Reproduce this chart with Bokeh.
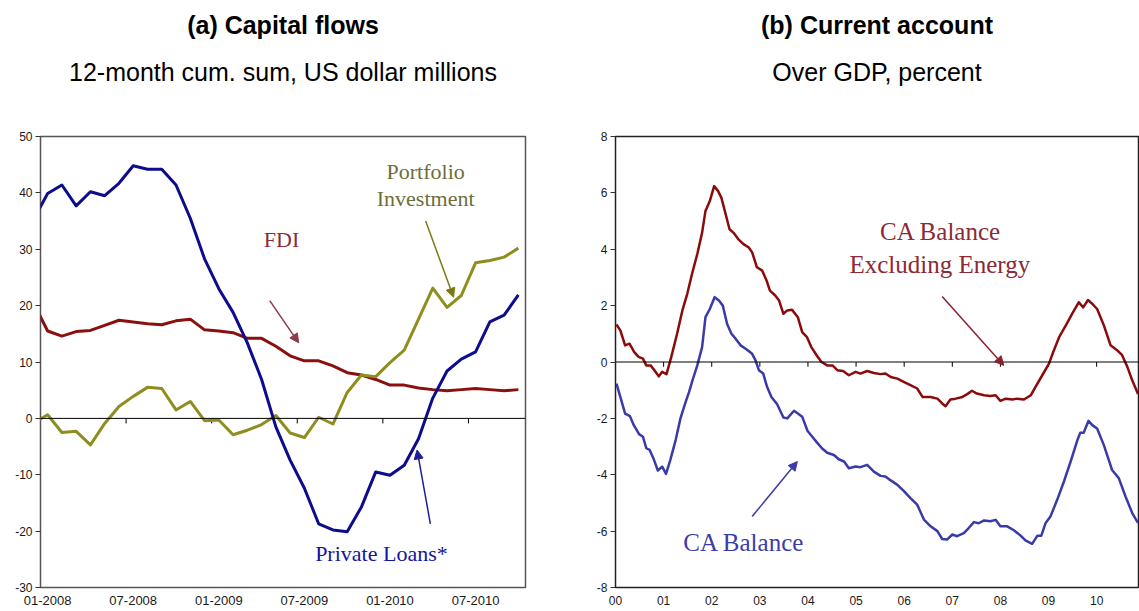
import pandas as pd
from bokeh.plotting import figure
from bokeh.models import Range1d, FixedTicker, Span, Title, Label, Arrow, NormalHead
from bokeh.layouts import row
from bokeh.embed import file_html
from bokeh.resources import INLINE

# ---------------- Panel (a): capital flows, monthly, US$ millions ----------------
flow_months = [str(p) for p in pd.period_range("2007-12", "2010-10", freq="M")]
private_loans = [35.2, 39.9, 41.4, 37.7, 40.2, 39.5, 41.7, 44.8, 44.2, 44.2, 41.4, 35.5,
                 28.3, 23.0, 18.8, 13.4, 6.9, -1.5, -7.4, -12.4, -18.7, -19.8, -20.1,
                 -15.7, -9.5, -10.1, -8.3, -3.6, 3.6, 8.4, 10.5, 11.8, 17.1, 18.3, 21.9]
fdi = [20.5, 15.5, 14.6, 15.4, 15.6, 16.5, 17.4, 17.1, 16.8, 16.6, 17.3, 17.6, 15.7,
       15.5, 15.2, 14.2, 14.2, 12.8, 11.1, 10.2, 10.2, 9.3, 8.1, 7.7, 6.9, 5.9, 5.9,
       5.4, 5.1, 4.9, 5.1, 5.3, 5.1, 4.9, 5.1]
portfolio = [-0.85, 0.65, -2.5, -2.3, -4.7, -0.9, 2.1, 3.9, 5.5, 5.3, 1.5, 3.0, -0.4,
             -0.3, -2.9, -2.1, -1.1, 0.5, -2.6, -3.4, 0.2, -1.0, 4.6, 7.7, 7.4, 9.9,
             12.1, 17.6, 23.1, 19.7, 21.8, 27.6, 28.0, 28.6, 30.2]
flow_tick_labels = ["01-2008", "07-2008", "01-2009", "07-2009", "01-2010", "07-2010"]
flow_y_ticks = [-30, -20, -10, 0, 10, 20, 30, 40, 50]

# ---------------- Panel (b): current account, % of GDP ----------------
ca_t = [0.02, 0.10, 0.20, 0.29, 0.39, 0.48, 0.57, 0.64, 0.73, 0.82, 0.90, 0.97, 1.06, 1.16,
        1.28, 1.39, 1.49, 1.59, 1.70, 1.80, 1.87, 1.96, 2.05, 2.13, 2.20, 2.29, 2.37, 2.45,
        2.55, 2.66, 2.77, 2.84, 2.94, 3.05, 3.14, 3.21, 3.32, 3.40, 3.49, 3.57, 3.67, 3.79,
        3.88, 3.98, 4.07, 4.18, 4.28, 4.40, 4.51, 4.61, 4.73, 4.85, 4.99, 5.09, 5.23, 5.37,
        5.51, 5.61, 5.72, 5.86, 6.00, 6.13, 6.27, 6.38, 6.55, 6.69, 6.79, 6.86, 6.96, 7.07,
        7.21, 7.31, 7.41, 7.51, 7.66, 7.79, 7.90, 8.00, 8.11, 8.25, 8.35, 8.49, 8.63, 8.73,
        8.87, 9.01, 9.11, 9.22, 9.36, 9.49, 9.63, 9.72, 9.82, 9.91, 10.01, 10.15, 10.29,
        10.43, 10.53, 10.64, 10.74, 10.86]
ca_ex_energy = [1.33, 1.12, 0.59, 0.65, 0.35, 0.18, 0.12, -0.12, -0.12, -0.32, -0.51, -0.35,
                -0.43, 0.18, 1.00, 1.83, 2.41, 3.12, 3.83, 4.59, 5.36, 5.71, 6.24, 6.07, 5.83,
                5.24, 4.71, 4.59, 4.36, 4.18, 4.06, 3.89, 3.36, 3.24, 2.89, 2.53, 2.36, 2.18,
                1.71, 1.83, 1.85, 1.59, 1.06, 0.88, 0.53, 0.24, 0.00, -0.12, -0.12, -0.29,
                -0.32, -0.47, -0.35, -0.41, -0.32, -0.39, -0.43, -0.41, -0.53, -0.59, -0.71,
                -0.82, -0.94, -1.24, -1.24, -1.30, -1.47, -1.57, -1.33, -1.30, -1.24, -1.14,
                -1.02, -1.12, -1.18, -1.21, -1.18, -1.38, -1.30, -1.33, -1.30, -1.33, -1.18,
                -0.88, -0.47, -0.06, 0.41, 0.88, 1.30, 1.71, 2.12, 1.94, 2.20, 2.06, 1.88,
                1.30, 0.59, 0.41, 0.24, -0.18, -0.65, -1.14]
cab_t = [0.02, 0.10, 0.20, 0.30, 0.38, 0.49, 0.57, 0.64, 0.71, 0.80, 0.88, 0.97, 1.05, 1.14,
         1.25, 1.35, 1.46, 1.53, 1.60, 1.70, 1.80, 1.87, 1.96, 2.06, 2.15, 2.23, 2.32, 2.41,
         2.50, 2.60, 2.72, 2.84, 2.91, 2.98, 3.07, 3.15, 3.24, 3.36, 3.49, 3.57, 3.71, 3.79,
         3.88, 3.99, 4.09, 4.19, 4.29, 4.40, 4.54, 4.64, 4.75, 4.85, 4.99, 5.09, 5.23, 5.37,
         5.51, 5.61, 5.72, 5.86, 6.00, 6.13, 6.27, 6.41, 6.55, 6.69, 6.79, 6.89, 7.00, 7.10,
         7.24, 7.34, 7.45, 7.55, 7.66, 7.79, 7.90, 8.00, 8.14, 8.28, 8.42, 8.52, 8.66, 8.77,
         8.85, 8.94, 9.04, 9.18, 9.32, 9.46, 9.60, 9.66, 9.73, 9.83, 9.91, 10.01, 10.15,
         10.32, 10.46, 10.60, 10.74, 10.86]
ca_balance = [-0.77, -1.24, -1.83, -1.92, -2.24, -2.56, -2.65, -3.06, -3.12, -3.47, -3.85,
              -3.71, -3.97, -3.47, -2.77, -2.00, -1.41, -1.06, -0.65, -0.12, 0.53, 1.59, 1.88,
              2.30, 2.18, 2.00, 1.35, 1.00, 0.82, 0.59, 0.45, 0.29, 0.06, -0.29, -0.41, -0.88,
              -1.24, -1.50, -1.97, -2.00, -1.73, -1.83, -1.94, -2.44, -2.65, -2.86, -3.06,
              -3.22, -3.30, -3.45, -3.53, -3.77, -3.71, -3.73, -3.65, -3.89, -4.04, -4.06,
              -4.20, -4.36, -4.59, -4.83, -5.06, -5.59, -5.83, -6.00, -6.28, -6.30, -6.12,
              -6.18, -6.07, -5.89, -5.68, -5.72, -5.62, -5.65, -5.60, -5.83, -5.83, -5.97,
              -6.16, -6.33, -6.45, -6.16, -6.16, -5.71, -5.48, -4.89, -4.24, -3.53, -2.77,
              -2.51, -2.51, -2.09, -2.24, -2.36, -2.95, -3.83, -4.12, -4.77, -5.36, -5.71]
ca_years = list(range(2000, 2011))
ca_year_labels = ["%02d" % (y % 100) for y in ca_years]
ca_y_ticks = [-8, -6, -4, -2, 0, 2, 4, 6, 8]

SANS = "Liberation Sans"
SERIF = "Liberation Serif"


def month_pos(s):
    y, m = s.split("-")
    return (int(y) - 2008) * 12 + (int(m) - 1) + 0.5


flow_x = [month_pos(s) for s in flow_months]
flow_ticks = [month_pos(f"20{l[-2:]}-{l[:2]}") for l in flow_tick_labels]


def add_titles(p, main, sub):
    p.add_layout(Title(text=" ", text_font_size="10px", standoff=28), "above")
    p.add_layout(Title(text=sub, text_font=SANS, text_font_size="25px",
                       text_font_style="normal", align="center", standoff=19,
                       text_color="#000000"), "above")
    p.add_layout(Title(text=main, text_font=SANS, text_font_size="25px",
                       text_font_style="bold", align="center", standoff=16,
                       text_color="#000000"), "above")


def style_axes(p, xfont):
    p.xgrid.visible = False
    p.ygrid.visible = False
    for ax in (p.xaxis[0], p.yaxis[0]):
        ax.axis_line_color = None
        ax.minor_tick_line_color = None
        ax.major_label_text_font = SANS
        ax.major_label_text_color = "#1a1a1a"
        ax.axis_label_standoff = 0
    p.xaxis.major_tick_line_color = None
    p.xaxis.major_tick_out = 0
    p.xaxis.major_tick_in = 0
    p.xaxis.major_label_standoff = 8
    p.xaxis.major_label_text_font_size = xfont
    p.yaxis.major_label_text_font_size = "12px"
    p.yaxis.major_tick_out = 5
    p.yaxis.major_tick_in = 0
    p.yaxis.major_tick_line_color = "#333333"
    p.yaxis.major_label_standoff = 3


# ---------------- figure (a) ----------------
p1 = figure(width=568, height=611, x_range=Range1d(0, 34), y_range=Range1d(-30, 50),
            output_backend="svg", toolbar_location=None,
            min_border_left=40, min_border_right=43, min_border_bottom=24, min_border_top=0)
p1.outline_line_color = "#555555"
p1.outline_line_width = 1.5
style_axes(p1, "13px")
p1.xaxis.ticker = FixedTicker(ticks=flow_ticks)
p1.xaxis.major_label_overrides = {t: l for t, l in zip(flow_ticks, flow_tick_labels)}
p1.yaxis.ticker = FixedTicker(ticks=flow_y_ticks)
p1.yaxis.major_label_overrides = {v: str(v) for v in flow_y_ticks}
add_titles(p1, "(a) Capital flows", "12-month cum. sum, US dollar millions")

p1.add_layout(Span(location=0, dimension="width", line_color="#000000", line_width=1))
zt = [t - 0.5 for t in flow_ticks[1:]]
p1.segment(x0=zt, y0=[0] * len(zt), x1=zt, y1=[-0.9] * len(zt), line_color="#000000", line_width=1)

p1.line(flow_x, fdi, line_color="#8B0F0F", line_width=3, line_join="round")
p1.line(flow_x, portfolio, line_color="#8E8E1E", line_width=3, line_join="round")
p1.line(flow_x, private_loans, line_color="#0C0C8C", line_width=3, line_join="round")

for txt, x, y, c in [("Portfolio", 27.0, 43.8, "#6E6E3A"), ("Investment", 27.0, 39.0, "#6E6E3A"),
                     ("FDI", 16.9, 31.7, "#8B2C3C"), ("Private Loans*", 23.9, -24.0, "#1414A0")]:
    p1.add_layout(Label(x=x, y=y, text=txt, text_font=SERIF, text_font_size="22px",
                        text_color=c, text_align="center", text_baseline="middle"))
for (xs, ys, xe, ye, c) in [(27.0, 35.0, 28.96, 21.5, "#7A7A14"),
                            (16.07, 20.9, 18.1, 13.4, "#8B3A48"),
                            (27.33, -18.7, 26.4, -5.6, "#1E1E9A")]:
    p1.add_layout(Arrow(end=NormalHead(size=9, fill_color=c, line_color=c, line_width=1),
                        x_start=xs, y_start=ys, x_end=xe, y_end=ye,
                        line_color=c, line_width=1.5))

# ---------------- figure (b) ----------------
p2 = figure(width=571, height=611, x_range=Range1d(2000, 2010.87), y_range=Range1d(-8, 8),
            output_backend="svg", toolbar_location=None,
            min_border_left=47, min_border_right=1, min_border_bottom=24, min_border_top=0)
p2.outline_line_color = "#222222"
p2.outline_line_width = 1.5
style_axes(p2, "12px")
p2.xaxis.ticker = FixedTicker(ticks=ca_years)
p2.xaxis.major_label_overrides = {y: l for y, l in zip(ca_years, ca_year_labels)}
p2.yaxis.ticker = FixedTicker(ticks=ca_y_ticks)
p2.yaxis.major_label_overrides = {v: str(v) for v in ca_y_ticks}
add_titles(p2, "(b) Current account", "Over GDP, percent")

p2.add_layout(Span(location=0, dimension="width", line_color="#000000", line_width=1))
yt = ca_years[1:]
p2.segment(x0=yt, y0=[0] * len(yt), x1=yt, y1=[-0.17] * len(yt), line_color="#000000", line_width=1)

p2.line([2000 + t for t in ca_t], ca_ex_energy, line_color="#8B0B0B", line_width=2.5, line_join="round")
p2.line([2000 + t for t in cab_t], ca_balance, line_color="#3A3AA8", line_width=2.5, line_join="round")

for txt, x, y, c in [("CA Balance", 2006.76, 4.62, "#8B2A35"),
                     ("Excluding Energy", 2006.74, 3.47, "#8B2A35"),
                     ("CA Balance", 2002.67, -6.39, "#3C3CAA")]:
    p2.add_layout(Label(x=x, y=y, text=txt, text_font=SERIF, text_font_size="25px",
                        text_color=c, text_align="center", text_baseline="middle"))
for (xs, ys, xe, ye, c) in [(2006.79, 2.32, 2008.07, -0.12, "#8B2030"),
                            (2002.84, -5.48, 2003.78, -3.53, "#3C3CA8")]:
    p2.add_layout(Arrow(end=NormalHead(size=9, fill_color=c, line_color=c, line_width=1),
                        x_start=xs, y_start=ys, x_end=xe, y_end=ye,
                        line_color=c, line_width=1.5))

layout = row(p1, p2)
open("out.html", "w").write(file_html(layout, INLINE))
